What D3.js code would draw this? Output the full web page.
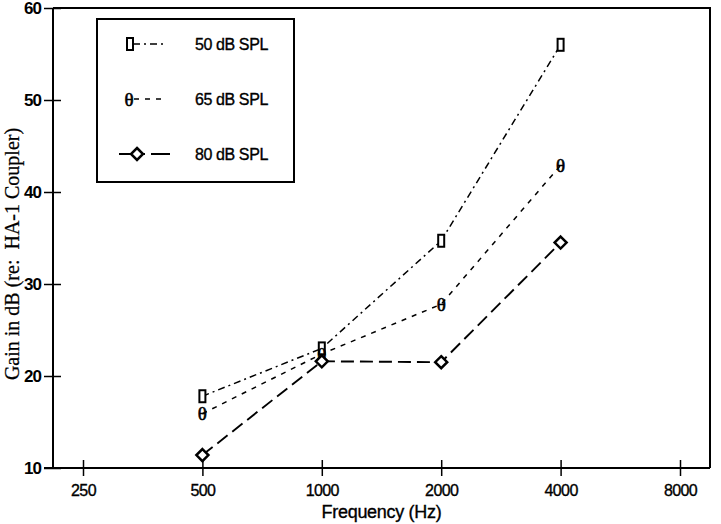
<!DOCTYPE html>
<html>
<head>
<meta charset="utf-8">
<script src="https://cdn.jsdelivr.net/npm/d3@7"></script>
<style>
  html, body { margin: 0; padding: 0; background: #fff; }
  svg { display: block; }
</style>
</head>
<body>
<svg id="chart" width="721" height="524"></svg>
<script>
// ---- data ----
const frequencies = [500, 1000, 2000, 4000];
const xTicks = [250, 500, 1000, 2000, 4000, 8000];
const yTicks = [10, 20, 30, 40, 50, 60];
const seriesNames = ["50 dB SPL", "65 dB SPL", "80 dB SPL"];
const gain50 = [17.8, 23.0, 34.7, 56.0];
const gain65 = [15.9, 22.4, 27.8, 42.9];
const gain80 = [11.4, 21.6, 21.5, 34.5];

const svg = d3.select("#chart");
const frame = { left: 53, right: 710, top: 8, bottom: 468 };

const x = d3.scaleLog().base(2).domain([250, 8000]).range([83, 680]);
const y = d3.scaleLinear().domain([10, 60]).range([468, 8]);

const sans = "'Liberation Sans', Arial, Helvetica, sans-serif";
const serif = "'Liberation Serif', 'Times New Roman', serif";

// frame (top & right)
svg.append("path")
  .attr("d", `M${frame.left},${frame.top}H${frame.right}V${frame.bottom}`)
  .attr("fill", "none").attr("stroke", "#000").attr("stroke-width", 2);

// x axis
const gx = svg.append("g")
  .attr("transform", `translate(0,${frame.bottom})`)
  .call(d3.axisBottom(x).tickValues(xTicks).tickFormat(d3.format("d")).tickSize(8).tickPadding(8));
gx.select(".domain").remove();
gx.append("line").attr("x1", 44).attr("x2", frame.right).attr("stroke", "#000").attr("stroke-width", 2);
gx.selectAll(".tick line").attr("y1", -8).attr("y2", 8).attr("stroke-width", 1.5);
gx.selectAll(".tick text").attr("font-family", sans).attr("font-size", 16)
  .attr("letter-spacing", "-0.6").attr("fill", "#000").attr("stroke", "#000").attr("stroke-width", 0.35)
  .attr("dy", "0.75em");

// y axis
const gy = svg.append("g")
  .attr("transform", `translate(${frame.left},0)`)
  .call(d3.axisLeft(y).tickValues(yTicks).tickSize(9).tickPadding(3));
gy.select(".domain").remove();
gy.append("line").attr("y1", frame.top).attr("y2", frame.bottom + 1).attr("stroke", "#000").attr("stroke-width", 2);
gy.selectAll(".tick line").attr("x1", -9).attr("x2", 8).attr("stroke-width", 1.5);
gy.selectAll(".tick text").attr("font-family", sans).attr("font-size", 17)
  .attr("font-weight", "bold").attr("letter-spacing", "-1").attr("fill", "#000");

// axis titles
svg.append("text")
  .attr("x", (x(1000) + x(2000)) / 2).attr("y", 518)
  .attr("text-anchor", "middle").attr("font-family", sans).attr("font-size", 18)
  .attr("letter-spacing", "-0.3").attr("stroke", "#000").attr("stroke-width", 0.35)
  .text("Frequency (Hz)");

svg.append("text")
  .attr("transform", "translate(19,254) rotate(-90)")
  .attr("text-anchor", "middle").attr("font-family", serif).attr("font-size", 20)
  .attr("stroke", "#000").attr("stroke-width", 0.25)
  .attr("xml:space", "preserve")
  .text("Gain in dB (re:  HA-1 Coupler)");

// series
const series = [
  { name: seriesNames[0], values: gain50, dash: "7,4,2,4", width: 1.5, marker: "rect" },
  { name: seriesNames[1], values: gain65, dash: "5,6", width: 1.5, marker: "theta" },
  { name: seriesNames[2], values: gain80, dash: "13,6", width: 1.9, marker: "diamond" }
];

const line = d3.line().x(d => x(d.f)).y(d => y(d.v));

function drawMarker(g, type, cx, cy) {
  if (type === "rect") {
    g.append("rect").attr("x", cx - 3).attr("y", cy - 6).attr("width", 6).attr("height", 12)
      .attr("fill", "#fff").attr("stroke", "#000").attr("stroke-width", 2);
  } else if (type === "theta") {
    g.append("text").attr("x", cx).attr("y", cy).attr("dy", "0.35em")
      .attr("text-anchor", "middle").attr("font-family", serif).attr("font-size", 19)
      .attr("fill", "#000").attr("stroke", "#000").attr("stroke-width", 0.6).text("θ");
  } else {
    const r = 6;
    g.append("path").attr("d", `M${cx},${cy - r}L${cx + r},${cy}L${cx},${cy + r}L${cx - r},${cy}Z`)
      .attr("fill", "#fff").attr("stroke", "#000").attr("stroke-width", 2.5);
  }
}

series.forEach(s => {
  const pts = frequencies.map((f, i) => ({ f, v: s.values[i] }));
  svg.append("path").datum(pts).attr("d", line)
    .attr("fill", "none").attr("stroke", "#000").attr("stroke-width", s.width)
    .attr("stroke-dasharray", s.dash);
});
series.forEach(s => {
  const g = svg.append("g");
  frequencies.forEach((f, i) => drawMarker(g, s.marker, x(f), y(s.values[i])));
});

// legend
const lg = svg.append("g");
lg.append("rect").attr("x", 97).attr("y", 19).attr("width", 197).attr("height", 163)
  .attr("fill", "#fff").attr("stroke", "#000").attr("stroke-width", 2);
const rowY = [44, 99, 154];
const legendLine = [
  { x1: 133, x2: 163, mx: 130 },
  { x1: 134, x2: 167, mx: 129 },
  { x1: 119, x2: 170, mx: 137 }
];
series.forEach((s, i) => {
  lg.append("line").attr("x1", legendLine[i].x1).attr("x2", legendLine[i].x2)
    .attr("y1", rowY[i]).attr("y2", rowY[i])
    .attr("stroke", "#000").attr("stroke-width", s.width).attr("stroke-dasharray", i === 2 ? "26,6" : s.dash);
  drawMarker(lg, s.marker, legendLine[i].mx, rowY[i]);
  lg.append("text").attr("x", 195).attr("y", rowY[i]).attr("dy", "0.36em")
    .attr("font-family", sans).attr("font-size", 16).attr("letter-spacing", "-0.4")
    .attr("fill", "#000").attr("stroke", "#000").attr("stroke-width", 0.35).text(s.name);
});
</script>
</body>
</html>
